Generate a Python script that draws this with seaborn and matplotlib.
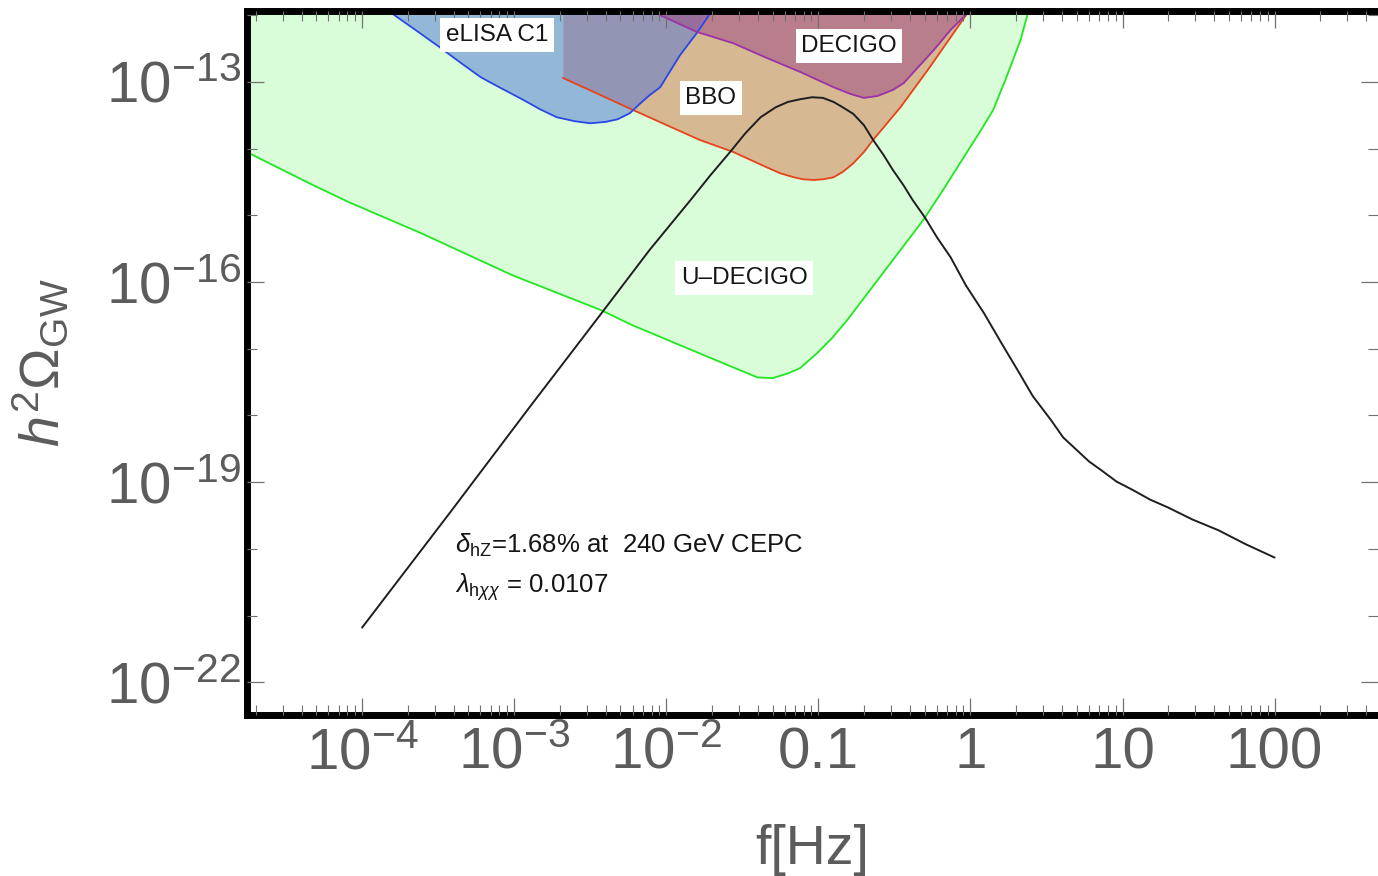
import numpy as np
import matplotlib
matplotlib.use("Agg")
import matplotlib.pyplot as plt
import matplotlib.ticker as mticker
import seaborn as sns

# Values, stored as log10(f [Hz]) and log10(h^2 Omega_GW)
udecigo_logf = [-4.76, -4.32, -4.09, -3.61, -3.01, -2.43, -2.22, -1.78, -1.58, -1.40, -1.30, -1.20,
                -1.12, -1.01, -0.91, -0.81, -0.61, -0.46, -0.31, -0.18, 0.07, 0.15, 0.23, 0.33, 0.38, 0.40]
udecigo_logo = [-14.05, -14.55, -14.80, -15.27, -15.90, -16.42, -16.65, -17.07, -17.26, -17.43, -17.44, -17.37,
                -17.29, -17.07, -16.84, -16.57, -15.97, -15.52, -15.07, -14.62, -13.72, -13.42, -12.97, -12.37, -11.95, -11.77]

elisa_logf = [-3.82, -3.80, -3.65, -3.49, -3.36, -3.22, -3.09, -2.94, -2.83, -2.72, -2.60, -2.50,
              -2.40, -2.32, -2.24, -2.17, -2.11, -2.04, -1.91, -1.80, -1.71, -1.69]
elisa_logo = [-11.89, -11.98, -12.22, -12.48, -12.70, -12.93, -13.09, -13.27, -13.41, -13.53, -13.59, -13.62,
              -13.60, -13.56, -13.47, -13.32, -13.20, -13.08, -12.60, -12.27, -11.97, -11.85]

bbo_logf = [-2.68, -2.43, -2.22, -1.78, -1.56, -1.34, -1.25, -1.16, -1.10, -1.03, -0.97, -0.90,
            -0.84, -0.77, -0.70, -0.64, -0.46, -0.28, -0.13, -0.02, 0.0]
bbo_logo = [-12.94, -13.20, -13.42, -13.87, -14.05, -14.28, -14.37, -14.43, -14.46, -14.47, -14.46, -14.43,
            -14.35, -14.22, -14.05, -13.87, -13.38, -12.82, -12.33, -11.97, -11.89]

decigo_logf = [-2.11, -2.04, -1.80, -1.56, -1.34, -1.12, -0.90, -0.79, -0.70, -0.61, -0.51, -0.44,
               -0.38, -0.24, -0.13, -0.02, 0.0]
decigo_logo = [-11.89, -12.00, -12.25, -12.42, -12.64, -12.85, -13.08, -13.18, -13.24, -13.21, -13.12, -13.02,
               -12.87, -12.52, -12.22, -11.97, -11.89]

signal_logf = [-4.0, -3.42, -2.90, -2.42, -2.11, -1.84, -1.71, -1.58, -1.48, -1.38, -1.28, -1.20, -1.12,
               -1.04, -0.97, -0.90, -0.84, -0.77, -0.70, -0.64, -0.57, -0.51, -0.44, -0.38, -0.30, -0.22,
               -0.13, -0.03, 0.09, 0.20, 0.31, 0.41, 0.53, 0.61, 0.70, 0.78, 0.86, 0.96, 1.07, 1.18, 1.30,
               1.46, 1.63, 1.81, 2.0]
signal_logo = [-21.18, -19.45, -17.88, -16.45, -15.52, -14.77, -14.40, -14.05, -13.77, -13.53, -13.38, -13.30, -13.26,
               -13.23, -13.24, -13.30, -13.38, -13.48, -13.65, -13.87, -14.10, -14.32, -14.55, -14.77, -15.03, -15.33,
               -15.63, -16.05, -16.47, -16.90, -17.32, -17.71, -18.07, -18.33, -18.52, -18.69, -18.82, -18.99, -19.12,
               -19.26, -19.38, -19.56, -19.72, -19.93, -20.13]

xtick_vals = [1e-4, 1e-3, 1e-2, 1e-1, 1, 10, 100]
xtick_labels = [r"$10^{-4}$", r"$10^{-3}$", r"$10^{-2}$", "0.1", "1", "10", "100"]
ytick_vals = [1e-22, 1e-19, 1e-16, 1e-13]
ytick_labels = [r"$10^{-22}$", r"$10^{-19}$", r"$10^{-16}$", r"$10^{-13}$"]
yminor_vals = [1e-21, 1e-20, 1e-18, 1e-17, 1e-15, 1e-14, 1e-12]


def lin(vals):
    return np.power(10.0, np.asarray(vals))


sns.set_theme(style="white")
plt.rcParams['font.family'] = ['Liberation Sans', 'DejaVu Sans']
plt.rcParams['mathtext.fontset'] = 'custom'
plt.rcParams['mathtext.rm'] = 'Liberation Sans'
plt.rcParams['mathtext.it'] = 'Liberation Sans:italic'
plt.rcParams['mathtext.bf'] = 'Liberation Sans:bold'

fig = plt.figure(figsize=(13.78, 8.76), dpi=100)
ax = fig.add_axes([0.1789, 0.1838, 0.8211, 0.8042])
ax.set_xscale('log')
ax.set_yscale('log')

top = 1e-11
# filled sensitivity regions (filled up to the top)
ax.fill_between(lin(udecigo_logf), lin(udecigo_logo), top, color='#d9fdd9', lw=0, zorder=1)
ax.fill_between(lin(bbo_logf), lin(bbo_logo), top, color='#d4754f', alpha=0.5, lw=0, zorder=2)
ax.fill_between(lin(elisa_logf), lin(elisa_logo), top, color='#4f73d4', alpha=0.5, lw=0, zorder=3)
ax.fill_between(lin(decigo_logf), lin(decigo_logo), top, color='#9c4684', alpha=0.5, lw=0, zorder=4)

edges = [(udecigo_logf, udecigo_logo, '#22e622'),
         (bbo_logf, bbo_logo, '#e8431c'),
         (elisa_logf, elisa_logo, '#2a48e8'),
         (decigo_logf, decigo_logo, '#9b32a8')]
for lf, lo, c in edges:
    sns.lineplot(x=lin(lf), y=lin(lo), ax=ax, color=c, linewidth=1.3,
                 estimator=None, sort=False, zorder=5)

sns.lineplot(x=lin(signal_logf), y=lin(signal_logo), ax=ax, color='#1e1e1e',
             linewidth=1.4, estimator=None, sort=False, zorder=6)

ax.set_xlim(10 ** -4.76, 10 ** 2.68)
ax.set_ylim(10 ** -22.49, 10 ** -11.93)

# ticks
ax.xaxis.set_major_locator(mticker.FixedLocator(xtick_vals))
ax.xaxis.set_major_formatter(mticker.FixedFormatter(xtick_labels))
ax.xaxis.set_minor_locator(mticker.LogLocator(base=10, subs=tuple(range(2, 10)), numticks=100))
ax.xaxis.set_minor_formatter(mticker.NullFormatter())
ax.yaxis.set_major_locator(mticker.FixedLocator(ytick_vals))
ax.yaxis.set_major_formatter(mticker.FixedFormatter(ytick_labels))
ax.yaxis.set_minor_locator(mticker.FixedLocator(yminor_vals))
ax.yaxis.set_minor_formatter(mticker.NullFormatter())

ax.tick_params(which='both', direction='in', top=True, right=True, bottom=True, left=True,
               color='#707070', labelcolor='#5c5c5c', labelsize=42)
ax.tick_params(which='major', length=12, width=0.9)
ax.tick_params(which='minor', length=7, width=0.8)
ax.tick_params(axis='x', pad=8)
ax.tick_params(axis='y', pad=4)

ax.set_axisbelow(False)
ax.xaxis.set_zorder(9)
ax.yaxis.set_zorder(9)

for s in ['left', 'top', 'bottom']:
    ax.spines[s].set_linewidth(5)
    ax.spines[s].set_color('black')
    ax.spines[s].set_zorder(8)
ax.spines['right'].set_visible(False)

ax.set_xlabel('f[Hz]', fontsize=40, color='#5c5c5c')
ax.set_ylabel(r'$h^2\Omega_{\mathrm{GW}}$', fontsize=40, color='#5c5c5c')
ax.xaxis.set_label_coords(0.5, -0.155)
ax.yaxis.set_label_coords(-0.155, 0.5)

box = dict(facecolor='white', edgecolor='none', pad=4)
ax.text(0.2214, 0.9652, 'eLISA C1', transform=ax.transAxes, ha='center', va='center',
        fontsize=17.5, color='#151515', bbox=box, zorder=10)
ax.text(0.5324, 0.9496, 'DECIGO', transform=ax.transAxes, ha='center', va='center',
        fontsize=17.5, color='#151515', bbox=box, zorder=10)
ax.text(0.4105, 0.8758, 'BBO', transform=ax.transAxes, ha='center', va='center',
        fontsize=17.5, color='#151515', bbox=box, zorder=10)
ax.text(0.4397, 0.6203, 'U\u2013DECIGO', transform=ax.transAxes, ha='center', va='center',
        fontsize=17.5, color='#151515', bbox=box, zorder=10)

ax.text(0.1843, 0.2413, r'$\delta_{\mathrm{hZ}}$=1.68% at  240 GeV CEPC', transform=ax.transAxes,
        ha='left', va='center', fontsize=18.5, color='#151515', zorder=10)
ax.text(0.1843, 0.1817, r'$\lambda_{\mathrm{h}\chi\chi}$ = 0.0107', transform=ax.transAxes,
        ha='left', va='center', fontsize=18.5, color='#151515', zorder=10)

fig.savefig('out.png', dpi=100)
